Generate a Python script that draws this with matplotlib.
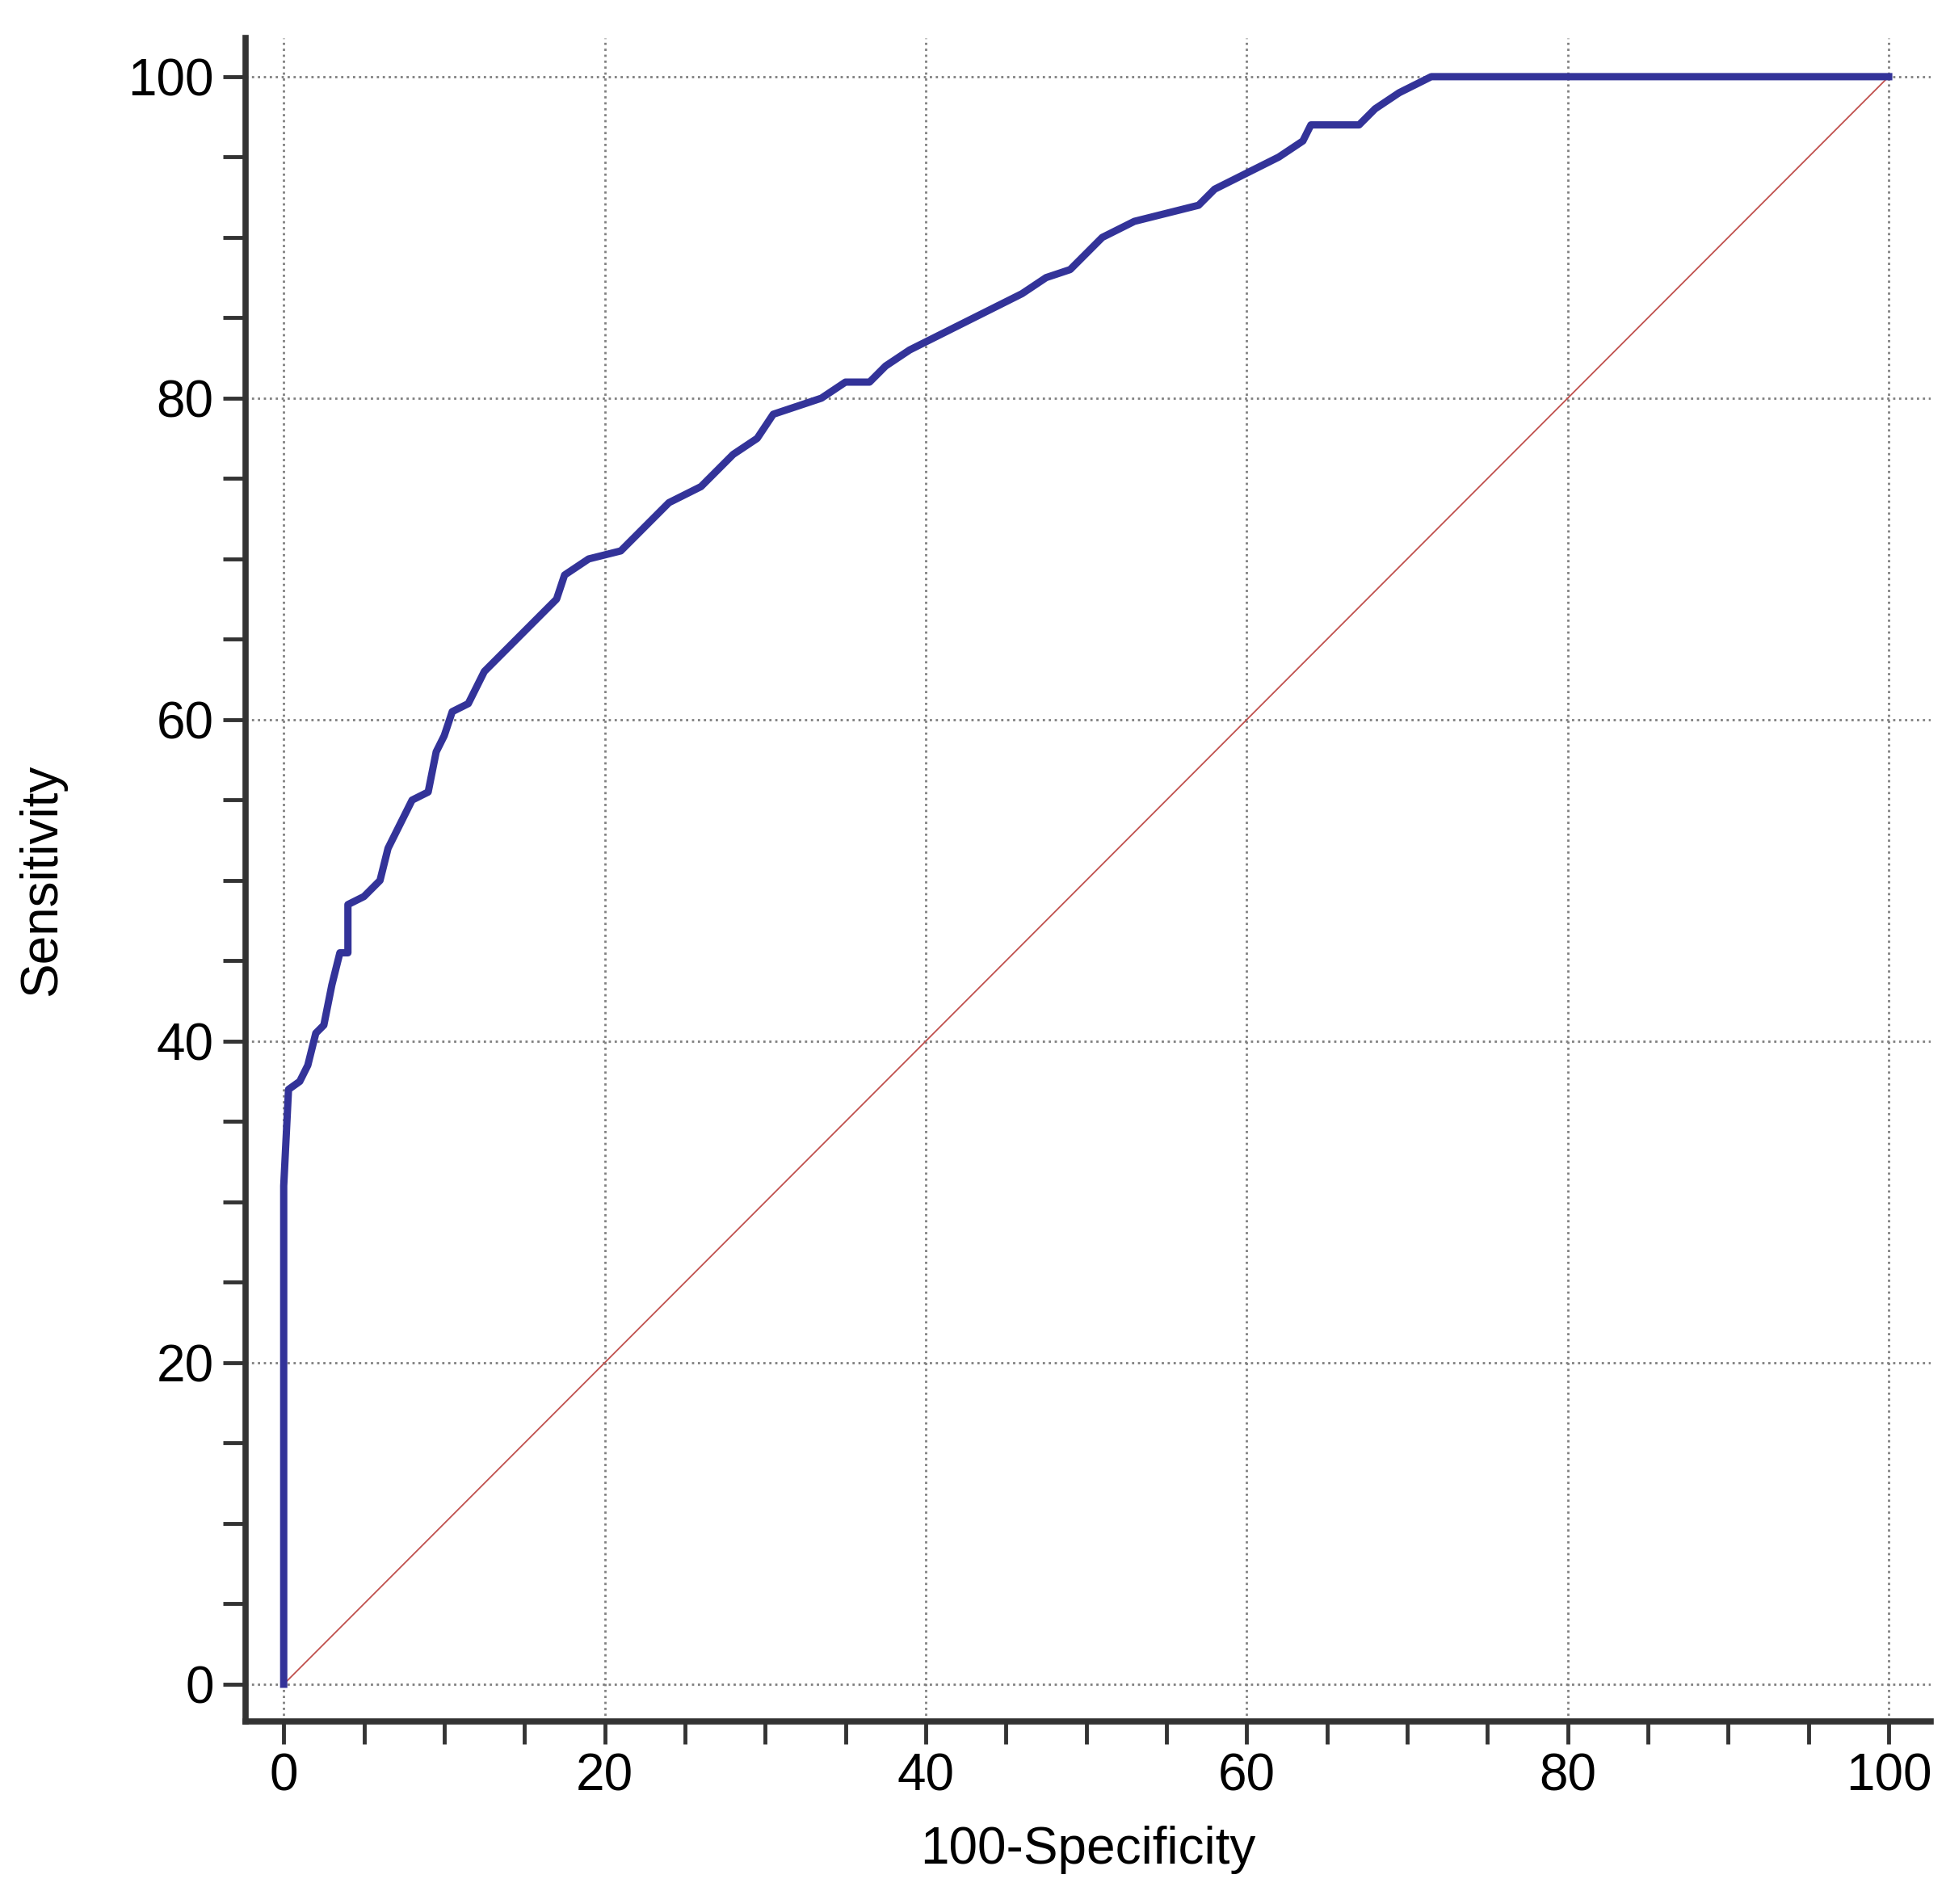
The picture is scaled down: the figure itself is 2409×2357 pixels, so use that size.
import numpy as np
import matplotlib.pyplot as plt
from matplotlib.ticker import MultipleLocator

plt.rcParams['font.family'] = ['Liberation Sans', 'DejaVu Sans']

# ROC curve (100-specificity, sensitivity)
fpr = [0, 0, 0.3, 1, 1.5, 2, 2.5, 3, 3.5, 4, 4, 5, 6, 6.5, 7, 7.5, 8, 9, 9.5, 10,
       10.5, 11.5, 12.5, 13.5, 15, 16, 17, 17.5, 19, 21, 22, 23, 24, 26, 27, 28,
       29.5, 30.5, 32, 33.5, 35, 36.5, 37.5, 39, 41, 42, 44, 46, 47.5, 49, 50, 51,
       53, 55, 57, 58, 60, 62, 63.5, 64, 67, 68, 69.5, 70.5, 71.5, 100]
tpr = [0, 31, 37, 37.5, 38.5, 40.5, 41, 43.5, 45.5, 45.5, 48.5, 49, 50, 52, 53, 54,
       55, 55.5, 58, 59, 60.5, 61, 63, 64, 65.5, 66.5, 67.5, 69, 70, 70.5, 71.5,
       72.5, 73.5, 74.5, 75.5, 76.5, 77.5, 79, 79.5, 80, 81, 81, 82, 83, 84, 84.5,
       85.5, 86.5, 87.5, 88, 89, 90, 91, 91.5, 92, 93, 94, 95, 96, 97, 97, 98, 99,
       99.5, 100, 100]
diag = [0, 100]

fig = plt.figure(figsize=(24.09, 23.57), dpi=100)
ax = fig.add_axes([0.126, 0.096, 0.866, 0.884])

ax.plot(diag, diag, color='#c0504d', lw=1.3)
ax.plot(fpr, tpr, color='#333399', lw=6.5, solid_joinstyle='round')

ax.set_xlim(-2.4, 102.6)
ax.set_ylim(-2.3, 102.4)
ax.xaxis.set_major_locator(MultipleLocator(20))
ax.yaxis.set_major_locator(MultipleLocator(20))
ax.xaxis.set_minor_locator(MultipleLocator(5))
ax.yaxis.set_minor_locator(MultipleLocator(5))
ax.grid(True, which='major', color='#808080', linestyle=':', lw=2)

for s in ['top', 'right']:
    ax.spines[s].set_visible(False)
for s in ['left', 'bottom']:
    ax.spines[s].set_linewidth(5.5)
    ax.spines[s].set_color('#333333')

ax.tick_params(which='both', direction='out', width=3.5, color='#333333',
               labelsize=46, pad=8, length=20)

ax.set_xlabel('100-Specificity', fontsize=46, labelpad=22)
ax.set_ylabel('Sensitivity', fontsize=46, labelpad=55)

fig.savefig('out.png')
